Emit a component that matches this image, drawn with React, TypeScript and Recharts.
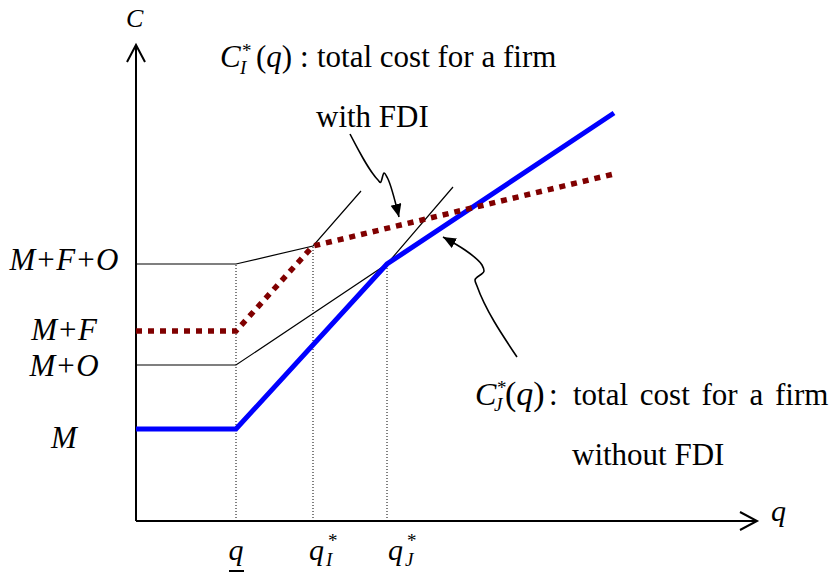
import React from 'react';
import { ComposedChart, Line, XAxis, YAxis, ReferenceLine, Customized } from 'recharts';

// q on the horizontal axis, total cost C on the vertical one (figure units)
const qLow = 10;
const qStarI = 17.7;
const qStarJ = 25.1;
const qEnd = 47.8;

const costM = 9.2;
const costMO = 15.6;
const costMF = 19.0;
const costMFO = 25.7;
const costKinkI = 27.5;

const costTicks = [costM, costMO, costMF, costMFO];
const costLabels = ['M', 'M+O', 'M+F', 'M+F+O'];
const qTicks = [qLow, qStarI, qStarJ];
const qSubscripts = ['', 'I', 'J'];

// C_J*(q): no FDI (blue)
const withoutFdiQ = [0, qLow, qStarJ, qEnd];
const withoutFdiC = [costM, costM, costMFO, 40.8];
// C_I*(q): with FDI (dotted red)
const withFdiQ = [0, qLow, qStarI, qEnd];
const withFdiC = [costMF, costMF, costKinkI, 34.7];

// thin helper lines
const guideFQ = [0, qLow, qStarI, 22.5];
const guideFC = [costMFO, costMFO, costKinkI, 33.0];
const guideOQ = [0, qLow, qStarJ, 31.7];
const guideOC = [costMO, costMO, costMFO, 33.4];

const dropQ = [qLow, qStarI, qStarJ];
const dropC = [costMFO, costKinkI, costMFO];

// curly pointers to the two curves
const fdiArrowQ = [21.4, 24.2, 24.45, 24.8, 25.15, 26.3];
const fdiArrowC = [38.7, 34.1, 33.85, 34.8, 34.3, 30.4];
const noFdiArrowQ = [38.1, 34.1, 33.9, 34.8, 34.6, 32.9, 30.7];
const noFdiArrowC = [16.4, 23.5, 24.1, 25.0, 25.6, 27.1, 28.4];

const axisQEnd = 62.1;
const axisCEnd = 47.6;

const zip = (qs: number[], cs: number[]) => qs.map((q, i) => ({ q, c: cs[i] }));

const serif = "'Liberation Serif', 'Times New Roman', serif";

function CostTick({ y, payload }: any) {
  const label = costLabels[costTicks.indexOf(payload.value)];
  const nudge: Record<string, number> = { M: 19, 'M+O': 11, 'M+F': 9, 'M+F+O': 6 };
  return (
    <text x={64} y={y + (nudge[label] ?? 10)} textAnchor="middle" fontFamily={serif} fontSize={31} fontStyle="italic" fill="#000">
      {label}
    </text>
  );
}

function QTick({ x, payload }: any) {
  const i = qTicks.indexOf(payload.value);
  const sub = qSubscripts[i];
  if (!sub) {
    return (
      <g>
        <text x={x} y={560} textAnchor="middle" fontFamily={serif} fontSize={30} fontStyle="italic" fill="#000">q</text>
        <line x1={x - 7} x2={x + 8} y1={571} y2={571} stroke="#000" strokeWidth={2} />
      </g>
    );
  }
  const shift = i === 1 ? -4 : 1;
  return (
    <g fontFamily={serif} fill="#000">
      <text x={x + shift} y={560} fontSize={30} fontStyle="italic">q</text>
      <text x={x + shift + 17} y={566} fontSize={19} fontStyle="italic">{sub}</text>
      <text x={x + shift + 19} y={547} fontSize={19}>*</text>
    </g>
  );
}

function Annotations() {
  return (
    <g fontFamily={serif} fill="#000">
      <text x={126} y={27} fontSize={26} fontStyle="italic">C</text>
      <text x={771} y={521} fontSize={30} fontStyle="italic">q</text>

      <text x={220} y={67} fontSize={31} fontStyle="italic">C</text>
      <text x={242} y={57} fontSize={19}>*</text>
      <text x={240} y={74} fontSize={19} fontStyle="italic">I</text>
      <text x={256} y={67} fontSize={31}>(<tspan fontStyle="italic">q</tspan>)</text>
      <text x={300} y={67} fontSize={31}>:</text>
      <text x={317} y={67} fontSize={31}>total cost for a firm</text>
      <text x={316} y={127} fontSize={31}>with FDI</text>

      <text x={475} y={405} fontSize={32} fontStyle="italic">C</text>
      <text x={497} y={394} fontSize={19}>*</text>
      <text x={494} y={411} fontSize={19} fontStyle="italic">J</text>
      <text x={505} y={405} fontSize={34}>(<tspan fontStyle="italic">q</tspan>)</text>
      <text x={549} y={405} fontSize={31}>:</text>
      <text x={573} y={405} fontSize={31} wordSpacing={4}>total cost for a firm</text>
      <text x={572} y={465} fontSize={31}>without FDI</text>
    </g>
  );
}

export default function App() {
  const thin = {
    stroke: '#000',
    strokeWidth: 1.2,
    dot: false,
    activeDot: false,
    isAnimationActive: false,
    type: 'linear' as const,
  };
  return (
    <div style={{ position: 'absolute', left: 0, top: 0, background: '#fff' }}>
      <ComposedChart width={830} height={576} margin={{ top: 0, right: 0, bottom: 0, left: 0 }}>
        <defs>
          <marker id="openHead" markerUnits="userSpaceOnUse" markerWidth={22} markerHeight={22} refX={19} refY={10} orient="auto">
            <path d="M2,1 L19,10 L2,19" fill="none" stroke="#000" strokeWidth={2} />
          </marker>
          <marker id="solidHead" markerUnits="userSpaceOnUse" markerWidth={16} markerHeight={12} refX={13} refY={5.5} orient="auto">
            <path d="M0,0 L13,5.5 L0,11 Z" fill="#000" />
          </marker>
        </defs>
        <XAxis
          type="number"
          dataKey="q"
          domain={[-13.6, 69.4]}
          allowDataOverflow
          ticks={qTicks}
          interval={0}
          mirror
          axisLine={false}
          tickLine={false}
          tick={QTick}
        />
        <YAxis
          type="number"
          dataKey="c"
          domain={[-5.5, 52.1]}
          allowDataOverflow
          ticks={costTicks}
          interval={0}
          mirror
          axisLine={false}
          tickLine={false}
          tick={CostTick}
        />

        {dropQ.map((q, i) => (
          <ReferenceLine
            key={q}
            segment={[{ x: q, y: 0 }, { x: q, y: dropC[i] }]}
            stroke="#000"
            strokeWidth={1}
            strokeDasharray="1 2"
          />
        ))}

        <Line data={zip(guideFQ, guideFC)} dataKey="c" {...thin} />
        <Line data={zip(guideOQ, guideOC)} dataKey="c" {...thin} />

        <Line data={zip([0, 0], [0, axisCEnd])} dataKey="c" {...thin} strokeWidth={2} markerEnd="url(#openHead)" />
        <Line data={zip([0, axisQEnd], [0, 0])} dataKey="c" {...thin} strokeWidth={2} markerEnd="url(#openHead)" />

        <Line
          data={zip(withoutFdiQ, withoutFdiC)}
          dataKey="c"
          type="linear"
          stroke="#0000ff"
          strokeWidth={5}
          dot={false}
          activeDot={false}
          isAnimationActive={false}
        />
        <Line
          data={zip(withFdiQ, withFdiC)}
          dataKey="c"
          type="linear"
          stroke="#800000"
          strokeWidth={5.5}
          strokeDasharray="6 6"
          dot={false}
          activeDot={false}
          isAnimationActive={false}
        />

        <Line data={zip(fdiArrowQ, fdiArrowC)} dataKey="c" {...thin} type="monotoneX" strokeWidth={1.6} markerEnd="url(#solidHead)" />
        <Line data={zip(noFdiArrowQ, noFdiArrowC)} dataKey="c" {...thin} type="monotoneY" strokeWidth={1.6} markerEnd="url(#solidHead)" />

        <Customized component={<Annotations />} />
      </ComposedChart>
    </div>
  );
}
